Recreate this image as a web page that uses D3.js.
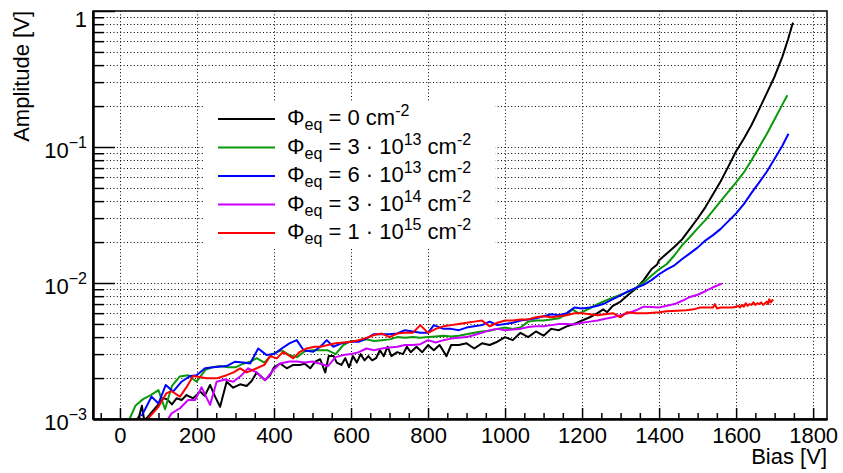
<!DOCTYPE html>
<html>
<head>
<meta charset="utf-8">
<script src="https://cdn.jsdelivr.net/npm/d3@7"></script>
<style>
  body { margin: 0; background: #fff; }
  text { font-family: "Liberation Sans", Arial, sans-serif; fill: #000; }
</style>
</head>
<body>
<svg class="chart" width="843" height="473"></svg>
<script>

// bias [V], amplitude [V]
var black = [[40,0.00095],[50,0.00105],[57,0.00125],[63,0.00098],[70,0.00102],[87,0.00116],[100,0.00128],[110,0.00142],[122,0.0014],[135,0.00128],[147,0.00142],[160,0.00138],[173,0.0015],[190,0.00142],[208,0.00159],[220,0.00148],[234,0.00178],[247,0.00146],[260,0.00123],[277,0.00188],[294,0.0017],[312,0.0018],[329,0.00175],[342,0.0019],[355,0.0022],[377,0.00193],[390,0.0021],[400,0.0024],[416,0.00256],[433,0.00236],[450,0.0025],[468,0.0025],[480,0.00255],[494,0.00236],[507,0.00264],[520,0.00275],[533,0.0022],[542,0.0029],[555,0.0029],[563,0.0026],[575,0.0025],[585,0.0028],[595,0.0024],[605,0.0029],[615,0.0026],[625,0.003],[635,0.0027],[645,0.0029],[655,0.0027],[665,0.0028],[675,0.0032],[685,0.0029],[695,0.0034],[705,0.0029],[720,0.0031],[735,0.003],[745,0.0034],[755,0.0031],[770,0.0034],[785,0.0031],[800,0.0035],[815,0.0032],[830,0.0035],[848,0.0029],[860,0.0035],[880,0.0035],[900,0.0036],[920,0.0033],[940,0.0036],[960,0.0035],[980,0.0037],[1000,0.004],[1020,0.0038],[1040,0.0043],[1060,0.004],[1080,0.0044],[1100,0.0041],[1120,0.0046],[1140,0.0045],[1160,0.0048],[1180,0.005],[1200,0.0053],[1220,0.0056],[1240,0.006],[1255,0.0064],[1265,0.0061],[1280,0.0068],[1300,0.0073],[1320,0.0082],[1340,0.0091],[1360,0.0105],[1380,0.0126],[1395,0.0137],[1400,0.0147],[1420,0.0165],[1440,0.0185],[1460,0.021],[1480,0.025],[1500,0.0298],[1520,0.036],[1540,0.045],[1560,0.056],[1580,0.072],[1600,0.093],[1620,0.115],[1640,0.145],[1660,0.19],[1680,0.25],[1700,0.33],[1720,0.46],[1735,0.62],[1745,0.78],[1748,0.82]];

var green = [[25,0.001],[40,0.00125],[60,0.0014],[80,0.0015],[100,0.00163],[117,0.00118],[135,0.00175],[155,0.00205],[177,0.0021],[199,0.00188],[222,0.0023],[240,0.0024],[260,0.00245],[280,0.0024],[300,0.0024],[320,0.00255],[340,0.00265],[355,0.0028],[375,0.0026],[395,0.003],[420,0.0032],[440,0.00295],[460,0.00285],[480,0.00315],[500,0.0032],[520,0.0032],[540,0.0032],[560,0.003],[580,0.0035],[600,0.00375],[620,0.00375],[640,0.00385],[660,0.00375],[680,0.0038],[700,0.00385],[720,0.004],[740,0.00395],[760,0.004],[780,0.00395],[800,0.004],[820,0.00405],[840,0.0041],[860,0.00405],[880,0.0041],[900,0.0042],[920,0.0043],[940,0.0044],[960,0.00445],[980,0.0046],[1000,0.0047],[1020,0.0046],[1040,0.0047],[1060,0.0052],[1080,0.0053],[1100,0.0053],[1120,0.0054],[1140,0.0055],[1160,0.0059],[1175,0.0064],[1190,0.006],[1200,0.0061],[1220,0.0065],[1240,0.007],[1260,0.0074],[1280,0.0078],[1300,0.0082],[1320,0.0086],[1340,0.0092],[1360,0.0101],[1380,0.0113],[1400,0.0126],[1420,0.0138],[1440,0.016],[1460,0.019],[1480,0.0218],[1500,0.0252],[1520,0.029],[1540,0.034],[1560,0.04],[1580,0.047],[1600,0.055],[1620,0.065],[1640,0.08],[1660,0.1],[1680,0.125],[1700,0.16],[1720,0.205],[1733,0.24]];

var blue = [[56,0.00105],[70,0.00125],[82,0.00146],[100,0.0013],[119,0.00178],[138,0.00159],[160,0.00188],[182,0.00207],[199,0.0021],[221,0.00236],[243,0.0024],[277,0.00245],[299,0.00264],[320,0.0026],[338,0.00256],[359,0.0033],[381,0.00295],[400,0.003],[420,0.0033],[440,0.0036],[459,0.0038],[477,0.0032],[502,0.00312],[520,0.0034],[537,0.0038],[554,0.0034],[575,0.0036],[600,0.0037],[620,0.0037],[640,0.0039],[658,0.0042],[680,0.0042],[700,0.0042],[720,0.00425],[740,0.0045],[760,0.0044],[780,0.0043],[800,0.0043],[815,0.0049],[840,0.0046],[860,0.0046],[880,0.0045],[900,0.0047],[920,0.0048],[940,0.0049],[960,0.0052],[980,0.0049],[1000,0.005],[1020,0.0051],[1040,0.0053],[1060,0.0054],[1080,0.0055],[1100,0.0057],[1120,0.0059],[1140,0.0058],[1160,0.006],[1180,0.0066],[1200,0.0065],[1220,0.0066],[1240,0.0068],[1260,0.0071],[1280,0.0076],[1300,0.0081],[1320,0.0087],[1340,0.0092],[1360,0.0097],[1380,0.0105],[1400,0.0116],[1420,0.0126],[1440,0.0135],[1460,0.015],[1480,0.0165],[1500,0.0182],[1520,0.0205],[1540,0.0225],[1560,0.025],[1580,0.0285],[1600,0.0325],[1620,0.038],[1640,0.046],[1660,0.055],[1680,0.066],[1700,0.082],[1720,0.102],[1736,0.125]];

var magenta = [[120,0.00095],[134,0.0011],[156,0.0012],[177,0.00138],[195,0.00138],[212,0.00171],[234,0.00127],[251,0.00188],[273,0.00195],[294,0.00188],[316,0.0021],[333,0.00236],[355,0.0022],[377,0.00193],[398,0.00229],[416,0.00256],[440,0.00265],[460,0.00265],[480,0.0026],[500,0.00265],[520,0.00255],[540,0.00245],[560,0.00285],[580,0.00295],[600,0.003],[620,0.0031],[640,0.0033],[660,0.0032],[680,0.0033],[700,0.00335],[720,0.0034],[740,0.0035],[760,0.0035],[780,0.00355],[800,0.0038],[820,0.00365],[840,0.0038],[860,0.0039],[880,0.00395],[900,0.004],[920,0.00415],[940,0.0043],[960,0.0045],[980,0.0046],[1000,0.0045],[1020,0.00455],[1040,0.0046],[1060,0.00475],[1080,0.0048],[1100,0.0048],[1120,0.0049],[1140,0.005],[1160,0.005],[1180,0.00495],[1200,0.0051],[1220,0.0052],[1240,0.0053],[1260,0.00545],[1280,0.0056],[1300,0.0058],[1320,0.006],[1340,0.0063],[1360,0.0067],[1380,0.00665],[1400,0.0066],[1420,0.0068],[1440,0.007],[1460,0.0074],[1480,0.0079],[1500,0.0082],[1520,0.0087],[1540,0.0093],[1563,0.0099]];

var red = [[69,0.00098],[85,0.0011],[100,0.00123],[121,0.00155],[134,0.0016],[156,0.00146],[172,0.0017],[190,0.00207],[225,0.00199],[251,0.00199],[277,0.0021],[295,0.0022],[312,0.00236],[329,0.0022],[355,0.00236],[375,0.0025],[390,0.0029],[407,0.00279],[424,0.00312],[450,0.00279],[466,0.0031],[485,0.0033],[505,0.0034],[520,0.0034],[540,0.0035],[560,0.0036],[580,0.00365],[600,0.0037],[620,0.0038],[640,0.00395],[660,0.00415],[680,0.00425],[700,0.004],[720,0.00425],[740,0.0043],[760,0.0043],[780,0.0049],[800,0.0043],[820,0.0046],[840,0.0048],[860,0.0049],[880,0.005],[900,0.0051],[920,0.0052],[940,0.0053],[960,0.0048],[980,0.0051],[1000,0.0053],[1020,0.0053],[1040,0.0054],[1060,0.0054],[1080,0.0056],[1100,0.0057],[1120,0.0056],[1140,0.0057],[1160,0.0058],[1180,0.006],[1200,0.006],[1220,0.0059],[1240,0.0058],[1260,0.0059],[1280,0.006],[1300,0.0056],[1316,0.0061],[1340,0.006],[1368,0.006],[1400,0.0061],[1420,0.0062],[1446,0.00625],[1470,0.0063],[1490,0.0064],[1506,0.0066],[1525,0.0066],[1540,0.0066],[1545,0.007],[1550,0.0065],[1560,0.0066],[1575,0.0066],[1590,0.0066],[1600,0.0067],[1605,0.0068],[1610,0.0066],[1615,0.0069],[1620,0.0067],[1625,0.0071],[1630,0.0068],[1635,0.007],[1640,0.0069],[1645,0.0072],[1650,0.0069],[1655,0.0071],[1660,0.007],[1665,0.0072],[1670,0.0069],[1675,0.0071],[1680,0.0073],[1683,0.007],[1686,0.0076],[1690,0.0072],[1694,0.0075],[1697,0.0074]];

var series = [black, green, blue, magenta, red];
var colors = ["#000000", "#0a990a", "#0000ff", "#cc00ff", "#ff0000"];
var fluence = ["0", "3 \u00b7 10", "6 \u00b7 10", "3 \u00b7 10", "1 \u00b7 10"];
var fluenceExp = ["", "13", "13", "14", "15"];

var biasTicks = [0, 200, 400, 600, 800, 1000, 1200, 1400, 1600, 1800];
var biasMinor = d3.range(-50, 1836, 50).filter(function(v) { return v % 200 != 0; });
var ampTicks = [1e-3, 1e-2, 1e-1, 1];
var ampExp = ["\u22123", "\u22122", "\u22121", ""];
var ampMinor = [];
[1e-3, 1e-2, 1e-1].forEach(function(d) {
  for (var k = 2; k <= 9; k++) ampMinor.push(d * k);
});

var svg = d3.select(".chart"),
    frame = {left: 93, right: 827, top: 11, bottom: 419};

var x = d3.scaleLinear().domain([-70, 1836]).range([frame.left, frame.right]),
    y = d3.scaleLog().domain([1e-3, 1]).range([frame.bottom, frame.top]);

svg.append("defs").append("clipPath").attr("id", "clip")
  .append("rect")
    .attr("x", frame.left).attr("y", frame.top)
    .attr("width", frame.right - frame.left)
    .attr("height", frame.bottom - frame.top);

// grid
var grid = svg.append("g")
    .attr("stroke", "#000")
    .attr("stroke-width", 1)
    .attr("stroke-dasharray", "1,2.4");

grid.selectAll(".gx").data(biasTicks).enter().append("line")
    .attr("x1", function(d) { return Math.round(x(d)) + 0.5; })
    .attr("x2", function(d) { return Math.round(x(d)) + 0.5; })
    .attr("y1", frame.top).attr("y2", frame.bottom);

grid.selectAll(".gy").data(ampMinor.concat([1e-2, 1e-1])).enter().append("line")
    .attr("x1", frame.left).attr("x2", frame.right)
    .attr("y1", function(d) { return Math.round(y(d)) + 0.5; })
    .attr("y2", function(d) { return Math.round(y(d)) + 0.5; });

// legend box hides the grid
var legend = svg.append("g");
legend.append("rect")
    .attr("x", 205).attr("y", 101)
    .attr("width", 290).attr("height", 147)
    .attr("fill", "#fff");

// curves
var line = d3.line()
    .x(function(d) { return x(d[0]); })
    .y(function(d) { return y(d[1]); });

svg.append("g").attr("clip-path", "url(#clip)")
  .selectAll("path")
  .data(series)
  .enter().append("path")
    .attr("fill", "none")
    .attr("stroke", function(d, i) { return colors[i]; })
    .attr("stroke-width", 2)
    .attr("stroke-linejoin", "round")
    .attr("d", line);

// frame
svg.append("rect")
    .attr("x", frame.left).attr("y", frame.top)
    .attr("width", frame.right - frame.left)
    .attr("height", frame.bottom - frame.top)
    .attr("fill", "none")
    .attr("stroke", "#000")
    .attr("stroke-width", 1.5);

// axes
var gx = svg.append("g")
    .attr("transform", "translate(0," + frame.bottom + ")")
    .call(d3.axisBottom(x).tickValues(biasTicks).tickFormat(d3.format("d"))
      .tickSizeInner(-11).tickSizeOuter(0).tickPadding(8));
svg.append("g")
    .attr("transform", "translate(0," + frame.bottom + ")")
    .call(d3.axisBottom(x).tickValues(biasMinor).tickSizeInner(-6).tickSizeOuter(0).tickFormat(""));
svg.append("g")
    .attr("transform", "translate(" + frame.left + ",0)")
    .call(d3.axisLeft(y).tickValues(ampTicks).tickSizeInner(-22).tickSizeOuter(0).tickFormat(""));
svg.append("g")
    .attr("transform", "translate(" + frame.left + ",0)")
    .call(d3.axisLeft(y).tickValues(ampMinor).tickSizeInner(-11).tickSizeOuter(0).tickFormat(""));

svg.selectAll(".domain").attr("stroke-width", 2);
svg.selectAll(".tick line").attr("stroke-width", 1.5);
gx.selectAll("text")
    .style("font-size", "22px")
    .style("font-family", "'Liberation Sans', Arial, sans-serif");

// y labels 10^n
var ylab = svg.append("g").selectAll("text")
  .data(ampTicks)
  .enter().append("text")
    .attr("x", 87)
    .attr("y", function(d) { return y(d) + (d == 1 ? 16 : 11); })
    .attr("text-anchor", "end")
    .style("font-size", "22px");
ylab.append("tspan").text(function(d) { return d == 1 ? "1" : "10"; });
ylab.append("tspan")
    .attr("dy", -10)
    .style("font-size", "16px")
    .text(function(d, i) { return ampExp[i]; });

// axis titles
svg.append("text")
    .attr("x", frame.right).attr("y", 464)
    .attr("text-anchor", "end")
    .style("font-size", "22px")
    .text("Bias [V]");

svg.append("text")
    .attr("transform", "translate(29," + frame.top + ") rotate(-90)")
    .attr("text-anchor", "end")
    .style("font-size", "22px")
    .text("Amplitude [V]");

// legend entries
var rows = legend.selectAll(".entry")
  .data(series)
  .enter().append("g")
    .attr("transform", function(d, i) { return "translate(0," + (119 + i * 28.5) + ")"; });

rows.append("line")
    .attr("x1", 218).attr("x2", 275)
    .attr("stroke", function(d, i) { return colors[i]; })
    .attr("stroke-width", 2);

var lt = rows.append("text")
    .attr("x", 287).attr("y", 6)
    .style("font-size", "22px");
lt.append("tspan").text("\u03a6");
lt.append("tspan").attr("dy", 5).style("font-size", "16px").text("eq");
lt.append("tspan").attr("dy", -5).text(function(d, i) { return " = " + fluence[i]; });
lt.filter(function(d, i) { return fluenceExp[i] != ""; })
  .append("tspan").attr("dy", -9).style("font-size", "16px")
    .text(function(d) { return fluenceExp[series.indexOf(d)]; });
lt.append("tspan")
    .attr("dy", function(d, i) { return fluenceExp[i] != "" ? 9 : 0; })
    .text(" cm");
lt.append("tspan").attr("dy", -9).style("font-size", "16px").text("-2");

</script>
</body>
</html>
